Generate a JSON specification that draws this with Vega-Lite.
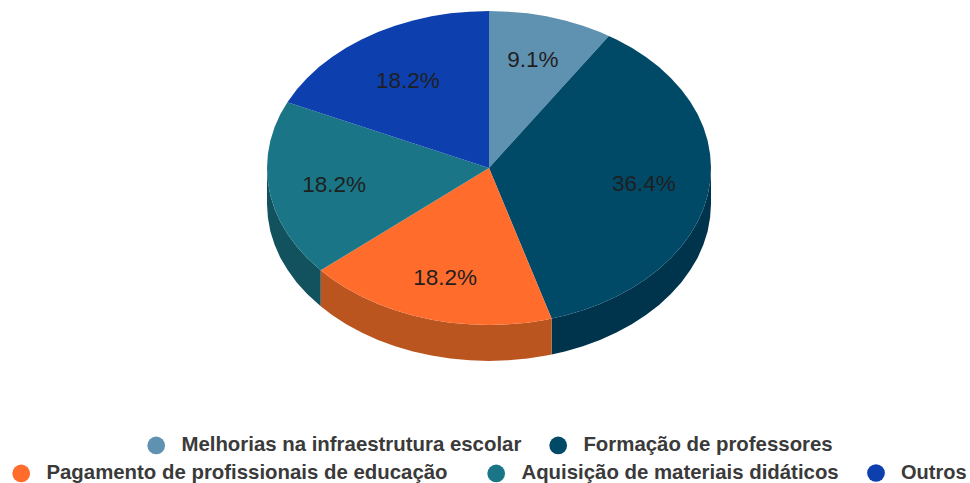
{"$schema":"https://vega.github.io/schema/vega-lite/v6.json","width":970,"height":483,"padding":0,"autosize":{"type":"fit","contains":"padding"},"background":"#ffffff","view":{"stroke":null},
"datasets":{
"shares":[
{"slice":"Melhorias na infraestrutura escolar","share":0.091,"x":0.198,"y":0.688},
{"slice":"Formação de professores","share":0.364,"x":0.698,"y":-0.102},
{"slice":"Pagamento de profissionais de educação","share":0.182,"x":-0.198,"y":-0.701},
{"slice":"Aquisição de materiais didáticos","share":0.182,"x":-0.698,"y":-0.108},
{"slice":"Outros","share":0.182,"x":-0.365,"y":0.554}],
"tops":[
{"slice":"Melhorias na infraestrutura escolar","i":0,"x":0,"y":0},{"slice":"Melhorias na infraestrutura escolar","i":1,"x":0,"y":1},{"slice":"Melhorias na infraestrutura escolar","i":2,"x":0.087,"y":0.996},{"slice":"Melhorias na infraestrutura escolar","i":3,"x":0.174,"y":0.985},{"slice":"Melhorias na infraestrutura escolar","i":4,"x":0.259,"y":0.966},{"slice":"Melhorias na infraestrutura escolar","i":5,"x":0.342,"y":0.94},{"slice":"Melhorias na infraestrutura escolar","i":6,"x":0.423,"y":0.906},{"slice":"Melhorias na infraestrutura escolar","i":7,"x":0.5,"y":0.866},{"slice":"Melhorias na infraestrutura escolar","i":8,"x":0.54,"y":0.841},
{"slice":"Formação de professores","i":0,"x":0,"y":0},{"slice":"Formação de professores","i":1,"x":0.54,"y":0.841},{"slice":"Formação de professores","i":2,"x":0.574,"y":0.819},{"slice":"Formação de professores","i":3,"x":0.643,"y":0.766},{"slice":"Formação de professores","i":4,"x":0.707,"y":0.707},{"slice":"Formação de professores","i":5,"x":0.766,"y":0.643},{"slice":"Formação de professores","i":6,"x":0.819,"y":0.574},{"slice":"Formação de professores","i":7,"x":0.866,"y":0.5},{"slice":"Formação de professores","i":8,"x":0.906,"y":0.423},{"slice":"Formação de professores","i":9,"x":0.94,"y":0.342},{"slice":"Formação de professores","i":10,"x":0.966,"y":0.259},{"slice":"Formação de professores","i":11,"x":0.985,"y":0.174},{"slice":"Formação de professores","i":12,"x":0.996,"y":0.087},{"slice":"Formação de professores","i":13,"x":1,"y":0},{"slice":"Formação de professores","i":14,"x":0.996,"y":-0.087},{"slice":"Formação de professores","i":15,"x":0.985,"y":-0.174},{"slice":"Formação de professores","i":16,"x":0.966,"y":-0.259},{"slice":"Formação de professores","i":17,"x":0.94,"y":-0.342},{"slice":"Formação de professores","i":18,"x":0.906,"y":-0.423},{"slice":"Formação de professores","i":19,"x":0.866,"y":-0.5},{"slice":"Formação de professores","i":20,"x":0.819,"y":-0.574},{"slice":"Formação de professores","i":21,"x":0.766,"y":-0.643},{"slice":"Formação de professores","i":22,"x":0.707,"y":-0.707},{"slice":"Formação de professores","i":23,"x":0.643,"y":-0.766},{"slice":"Formação de professores","i":24,"x":0.574,"y":-0.819},{"slice":"Formação de professores","i":25,"x":0.5,"y":-0.866},{"slice":"Formação de professores","i":26,"x":0.423,"y":-0.906},{"slice":"Formação de professores","i":27,"x":0.342,"y":-0.94},{"slice":"Formação de professores","i":28,"x":0.282,"y":-0.959},
{"slice":"Pagamento de profissionais de educação","i":0,"x":0,"y":0},{"slice":"Pagamento de profissionais de educação","i":1,"x":0.282,"y":-0.959},{"slice":"Pagamento de profissionais de educação","i":2,"x":0.259,"y":-0.966},{"slice":"Pagamento de profissionais de educação","i":3,"x":0.174,"y":-0.985},{"slice":"Pagamento de profissionais de educação","i":4,"x":0.087,"y":-0.996},{"slice":"Pagamento de profissionais de educação","i":5,"x":0,"y":-1},{"slice":"Pagamento de profissionais de educação","i":6,"x":-0.087,"y":-0.996},{"slice":"Pagamento de profissionais de educação","i":7,"x":-0.174,"y":-0.985},{"slice":"Pagamento de profissionais de educação","i":8,"x":-0.259,"y":-0.966},{"slice":"Pagamento de profissionais de educação","i":9,"x":-0.342,"y":-0.94},{"slice":"Pagamento de profissionais de educação","i":10,"x":-0.423,"y":-0.906},{"slice":"Pagamento de profissionais de educação","i":11,"x":-0.5,"y":-0.866},{"slice":"Pagamento de profissionais de educação","i":12,"x":-0.574,"y":-0.819},{"slice":"Pagamento de profissionais de educação","i":13,"x":-0.643,"y":-0.766},{"slice":"Pagamento de profissionais de educação","i":14,"x":-0.707,"y":-0.707},{"slice":"Pagamento de profissionais de educação","i":15,"x":-0.758,"y":-0.652},
{"slice":"Aquisição de materiais didáticos","i":0,"x":0,"y":0},{"slice":"Aquisição de materiais didáticos","i":1,"x":-0.758,"y":-0.652},{"slice":"Aquisição de materiais didáticos","i":2,"x":-0.819,"y":-0.574},{"slice":"Aquisição de materiais didáticos","i":3,"x":-0.866,"y":-0.5},{"slice":"Aquisição de materiais didáticos","i":4,"x":-0.906,"y":-0.423},{"slice":"Aquisição de materiais didáticos","i":5,"x":-0.94,"y":-0.342},{"slice":"Aquisição de materiais didáticos","i":6,"x":-0.966,"y":-0.259},{"slice":"Aquisição de materiais didáticos","i":7,"x":-0.985,"y":-0.174},{"slice":"Aquisição de materiais didáticos","i":8,"x":-0.996,"y":-0.087},{"slice":"Aquisição de materiais didáticos","i":9,"x":-1,"y":0},{"slice":"Aquisição de materiais didáticos","i":10,"x":-0.996,"y":0.087},{"slice":"Aquisição de materiais didáticos","i":11,"x":-0.985,"y":0.174},{"slice":"Aquisição de materiais didáticos","i":12,"x":-0.966,"y":0.259},{"slice":"Aquisição de materiais didáticos","i":13,"x":-0.94,"y":0.342},{"slice":"Aquisição de materiais didáticos","i":14,"x":-0.908,"y":0.419},
{"slice":"Outros","i":0,"x":0,"y":0},{"slice":"Outros","i":1,"x":-0.908,"y":0.419},{"slice":"Outros","i":2,"x":-0.866,"y":0.5},{"slice":"Outros","i":3,"x":-0.819,"y":0.574},{"slice":"Outros","i":4,"x":-0.766,"y":0.643},{"slice":"Outros","i":5,"x":-0.707,"y":0.707},{"slice":"Outros","i":6,"x":-0.643,"y":0.766},{"slice":"Outros","i":7,"x":-0.574,"y":0.819},{"slice":"Outros","i":8,"x":-0.5,"y":0.866},{"slice":"Outros","i":9,"x":-0.423,"y":0.906},{"slice":"Outros","i":10,"x":-0.342,"y":0.94},{"slice":"Outros","i":11,"x":-0.259,"y":0.966},{"slice":"Outros","i":12,"x":-0.174,"y":0.985},{"slice":"Outros","i":13,"x":-0.087,"y":0.996},{"slice":"Outros","i":14,"x":0,"y":1}],
"walls":[
{"slice":"Formação de professores","i":0,"x":1,"y":0},{"slice":"Formação de professores","i":1,"x":0.996,"y":-0.087},{"slice":"Formação de professores","i":2,"x":0.985,"y":-0.174},{"slice":"Formação de professores","i":3,"x":0.966,"y":-0.259},{"slice":"Formação de professores","i":4,"x":0.94,"y":-0.342},{"slice":"Formação de professores","i":5,"x":0.906,"y":-0.423},{"slice":"Formação de professores","i":6,"x":0.866,"y":-0.5},{"slice":"Formação de professores","i":7,"x":0.819,"y":-0.574},{"slice":"Formação de professores","i":8,"x":0.766,"y":-0.643},{"slice":"Formação de professores","i":9,"x":0.707,"y":-0.707},{"slice":"Formação de professores","i":10,"x":0.643,"y":-0.766},{"slice":"Formação de professores","i":11,"x":0.574,"y":-0.819},{"slice":"Formação de professores","i":12,"x":0.5,"y":-0.866},{"slice":"Formação de professores","i":13,"x":0.423,"y":-0.906},{"slice":"Formação de professores","i":14,"x":0.342,"y":-0.94},{"slice":"Formação de professores","i":15,"x":0.282,"y":-0.959},
{"slice":"Formação de professores","i":16,"x":0.282,"y":-1.188},{"slice":"Formação de professores","i":17,"x":0.342,"y":-1.169},{"slice":"Formação de professores","i":18,"x":0.423,"y":-1.135},{"slice":"Formação de professores","i":19,"x":0.5,"y":-1.095},{"slice":"Formação de professores","i":20,"x":0.574,"y":-1.048},{"slice":"Formação de professores","i":21,"x":0.643,"y":-0.995},{"slice":"Formação de professores","i":22,"x":0.707,"y":-0.936},{"slice":"Formação de professores","i":23,"x":0.766,"y":-0.872},{"slice":"Formação de professores","i":24,"x":0.819,"y":-0.803},{"slice":"Formação de professores","i":25,"x":0.866,"y":-0.729},{"slice":"Formação de professores","i":26,"x":0.906,"y":-0.652},{"slice":"Formação de professores","i":27,"x":0.94,"y":-0.571},{"slice":"Formação de professores","i":28,"x":0.966,"y":-0.488},{"slice":"Formação de professores","i":29,"x":0.985,"y":-0.403},{"slice":"Formação de professores","i":30,"x":0.996,"y":-0.316},{"slice":"Formação de professores","i":31,"x":1,"y":-0.229},
{"slice":"Pagamento de profissionais de educação","i":0,"x":0.282,"y":-0.959},{"slice":"Pagamento de profissionais de educação","i":1,"x":0.259,"y":-0.966},{"slice":"Pagamento de profissionais de educação","i":2,"x":0.174,"y":-0.985},{"slice":"Pagamento de profissionais de educação","i":3,"x":0.087,"y":-0.996},{"slice":"Pagamento de profissionais de educação","i":4,"x":0,"y":-1},{"slice":"Pagamento de profissionais de educação","i":5,"x":-0.087,"y":-0.996},{"slice":"Pagamento de profissionais de educação","i":6,"x":-0.174,"y":-0.985},{"slice":"Pagamento de profissionais de educação","i":7,"x":-0.259,"y":-0.966},{"slice":"Pagamento de profissionais de educação","i":8,"x":-0.342,"y":-0.94},{"slice":"Pagamento de profissionais de educação","i":9,"x":-0.423,"y":-0.906},{"slice":"Pagamento de profissionais de educação","i":10,"x":-0.5,"y":-0.866},{"slice":"Pagamento de profissionais de educação","i":11,"x":-0.574,"y":-0.819},{"slice":"Pagamento de profissionais de educação","i":12,"x":-0.643,"y":-0.766},{"slice":"Pagamento de profissionais de educação","i":13,"x":-0.707,"y":-0.707},{"slice":"Pagamento de profissionais de educação","i":14,"x":-0.758,"y":-0.652},
{"slice":"Pagamento de profissionais de educação","i":15,"x":-0.758,"y":-0.881},{"slice":"Pagamento de profissionais de educação","i":16,"x":-0.707,"y":-0.936},{"slice":"Pagamento de profissionais de educação","i":17,"x":-0.643,"y":-0.995},{"slice":"Pagamento de profissionais de educação","i":18,"x":-0.574,"y":-1.048},{"slice":"Pagamento de profissionais de educação","i":19,"x":-0.5,"y":-1.095},{"slice":"Pagamento de profissionais de educação","i":20,"x":-0.423,"y":-1.135},{"slice":"Pagamento de profissionais de educação","i":21,"x":-0.342,"y":-1.169},{"slice":"Pagamento de profissionais de educação","i":22,"x":-0.259,"y":-1.195},{"slice":"Pagamento de profissionais de educação","i":23,"x":-0.174,"y":-1.214},{"slice":"Pagamento de profissionais de educação","i":24,"x":-0.087,"y":-1.225},{"slice":"Pagamento de profissionais de educação","i":25,"x":0,"y":-1.229},{"slice":"Pagamento de profissionais de educação","i":26,"x":0.087,"y":-1.225},{"slice":"Pagamento de profissionais de educação","i":27,"x":0.174,"y":-1.214},{"slice":"Pagamento de profissionais de educação","i":28,"x":0.259,"y":-1.195},{"slice":"Pagamento de profissionais de educação","i":29,"x":0.282,"y":-1.188},
{"slice":"Aquisição de materiais didáticos","i":0,"x":-0.758,"y":-0.652},{"slice":"Aquisição de materiais didáticos","i":1,"x":-0.819,"y":-0.574},{"slice":"Aquisição de materiais didáticos","i":2,"x":-0.866,"y":-0.5},{"slice":"Aquisição de materiais didáticos","i":3,"x":-0.906,"y":-0.423},{"slice":"Aquisição de materiais didáticos","i":4,"x":-0.94,"y":-0.342},{"slice":"Aquisição de materiais didáticos","i":5,"x":-0.966,"y":-0.259},{"slice":"Aquisição de materiais didáticos","i":6,"x":-0.985,"y":-0.174},{"slice":"Aquisição de materiais didáticos","i":7,"x":-0.996,"y":-0.087},{"slice":"Aquisição de materiais didáticos","i":8,"x":-1,"y":0},
{"slice":"Aquisição de materiais didáticos","i":9,"x":-1,"y":-0.229},{"slice":"Aquisição de materiais didáticos","i":10,"x":-0.996,"y":-0.316},{"slice":"Aquisição de materiais didáticos","i":11,"x":-0.985,"y":-0.403},{"slice":"Aquisição de materiais didáticos","i":12,"x":-0.966,"y":-0.488},{"slice":"Aquisição de materiais didáticos","i":13,"x":-0.94,"y":-0.571},{"slice":"Aquisição de materiais didáticos","i":14,"x":-0.906,"y":-0.652},{"slice":"Aquisição de materiais didáticos","i":15,"x":-0.866,"y":-0.729},{"slice":"Aquisição de materiais didáticos","i":16,"x":-0.819,"y":-0.803},{"slice":"Aquisição de materiais didáticos","i":17,"x":-0.758,"y":-0.881}]},
"encoding":{"x":{"field":"x","type":"quantitative","axis":null,"scale":{"domain":[-2.2027,2.1667],"nice":false,"zero":false}},"y":{"field":"y","type":"quantitative","axis":null,"scale":{"domain":[-2.0064,1.0701],"nice":false,"zero":false}}},
"layer":[
{"data":{"name":"walls"},"mark":{"type":"line","filled":true,"strokeWidth":0},"encoding":{"order":{"field":"i","type":"quantitative"},"color":{"field":"slice","type":"nominal","legend":null,"scale":{"domain":["Formação de professores","Pagamento de profissionais de educação","Aquisição de materiais didáticos"],"range":["#00334c","#bb5520","#12525e"]}}}},
{"data":{"name":"tops"},"transform":[{"filter":{"field":"slice","oneOf":["Melhorias na infraestrutura escolar","Formação de professores"]}}],"mark":{"type":"line","filled":true,"strokeWidth":0},"encoding":{"order":{"field":"i","type":"quantitative"},"color":{"field":"slice","type":"nominal","scale":{"domain":["Melhorias na infraestrutura escolar","Formação de professores"],"range":["#5f92b1","#004a68"]},"legend":{"title":null,"orient":"none","direction":"horizontal","legendX":146,"legendY":435,"symbolType":"circle","symbolSize":314,"symbolStrokeWidth":0,"labelOffset":15,"labelFont":"Liberation Sans","labelFontWeight":"bold","labelFontSize":20.4,"labelColor":"#3a3a3a","labelLimit":600,"columnPadding":26,"padding":0}}}},
{"data":{"name":"tops"},"transform":[{"filter":{"field":"slice","oneOf":["Pagamento de profissionais de educação","Aquisição de materiais didáticos"]}}],"mark":{"type":"line","filled":true,"strokeWidth":0},"encoding":{"order":{"field":"i","type":"quantitative"},"color":{"field":"slice","type":"nominal","scale":{"domain":["Pagamento de profissionais de educação","Aquisição de materiais didáticos"],"range":["#ff6c2c","#1a7686"]},"legend":{"title":null,"orient":"none","direction":"horizontal","legendX":11,"legendY":463,"symbolType":"circle","symbolSize":314,"symbolStrokeWidth":0,"labelOffset":15,"labelFont":"Liberation Sans","labelFontWeight":"bold","labelFontSize":20.4,"labelColor":"#3a3a3a","labelLimit":600,"columnPadding":38,"padding":0}}}},
{"data":{"name":"tops"},"transform":[{"filter":{"field":"slice","equal":"Outros"}}],"mark":{"type":"line","filled":true,"strokeWidth":0},"encoding":{"order":{"field":"i","type":"quantitative"},"color":{"field":"slice","type":"nominal","scale":{"domain":["Outros"],"range":["#0d40ae"]},"legend":{"title":null,"orient":"none","direction":"horizontal","legendX":866,"legendY":463,"symbolType":"circle","symbolSize":314,"symbolStrokeWidth":0,"labelOffset":15,"labelFont":"Liberation Sans","labelFontWeight":"bold","labelFontSize":20,"labelColor":"#3a3a3a","labelLimit":600,"padding":0}}}},
{"data":{"name":"shares"},"mark":{"type":"text","font":"Liberation Sans","fontSize":22.5,"color":"#1f1f1f","align":"center","baseline":"middle"},"encoding":{"text":{"field":"share","type":"quantitative","format":".1%"}}}
],
"resolve":{"scale":{"color":"independent"}}}
